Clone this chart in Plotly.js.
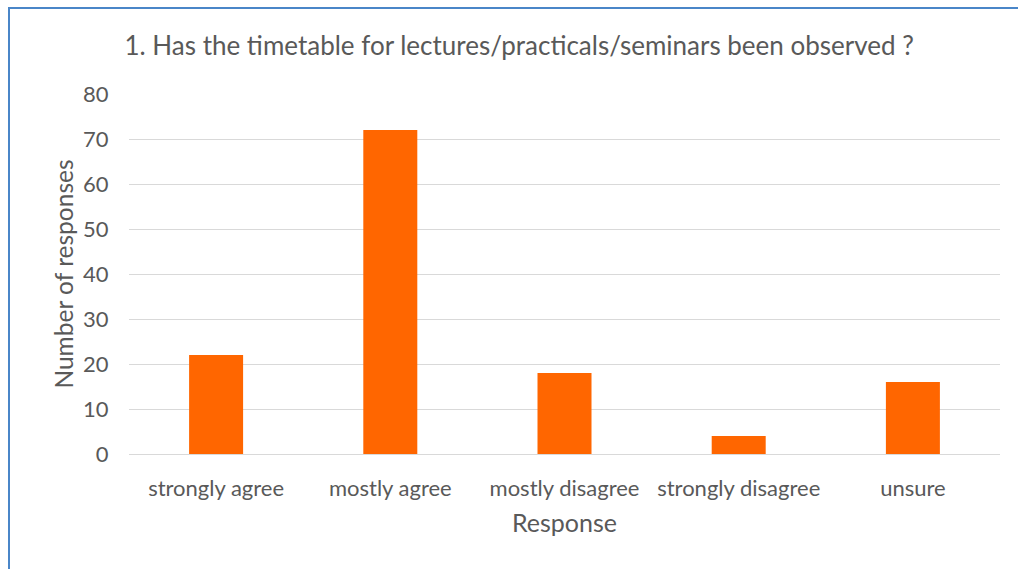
<!DOCTYPE html>
<html>
<head>
<meta charset="utf-8">
<script src="https://cdn.plot.ly/plotly-3.0.1.min.js"></script>
<style>
html,body{margin:0;padding:0;background:#fff;}
#wrap{position:relative;width:1018px;height:569px;overflow:hidden;}
#chart{position:absolute;left:0;top:0;width:1018px;height:569px;}
#frame{position:absolute;left:8px;top:7px;width:1030px;height:600px;border-left:2px solid #4a86c8;border-top:2px solid #4a86c8;pointer-events:none;}
</style>
</head>
<body>
<div id="wrap"><div id="chart"></div><div id="frame"></div></div>
<script>
const categories = ["strongly agree", "mostly agree", "mostly disagree", "strongly disagree", "unsure"];
const responses = [22, 72, 18, 4, 16];
const yTicks = [0, 10, 20, 30, 40, 50, 60, 70, 80];

const fontFam = "Lato, 'Open Sans', sans-serif";
const textCol = "#595959";

Plotly.newPlot("chart", [{
  type: "bar",
  x: categories,
  y: responses,
  marker: {color: "#FF6600"},
  hoverinfo: "x+y"
}], {
  width: 1018, height: 569,
  margin: {l: 129, r: 18, t: 94, b: 115},
  paper_bgcolor: "#ffffff",
  plot_bgcolor: "#ffffff",
  bargap: 0.69,
  font: {family: fontFam, color: textCol},
  title: {
    text: "1. Has the timetable for lectures/practicals/seminars been observed ?",
    font: {size: 26, color: textCol, family: fontFam},
    x: 0.51, xanchor: "center", y: 0.92, yanchor: "middle"
  },
  xaxis: {
    title: {text: "Response", font: {size: 25, color: textCol}, standoff: 14},
    tickfont: {size: 22, color: textCol},
    showline: false, showgrid: false, ticks: "outside", ticklen: 15, tickcolor: "rgba(0,0,0,0)", automargin: false
  },
  yaxis: {
    title: {text: "Number of responses", font: {size: 24.5, color: textCol}, standoff: 2},
    range: [0, 80], tickvals: yTicks, ticktext: yTicks.map(String),
    tickfont: {size: 22, color: textCol},
    gridcolor: "#d9d9d9", gridwidth: 1,
    zeroline: true, zerolinecolor: "#d9d9d9", zerolinewidth: 1,
    showline: false, ticks: "outside", ticklen: 15, tickcolor: "rgba(0,0,0,0)", automargin: false
  },
  showlegend: false
}, {displayModeBar: false, staticPlot: true});
</script>
</body>
</html>
